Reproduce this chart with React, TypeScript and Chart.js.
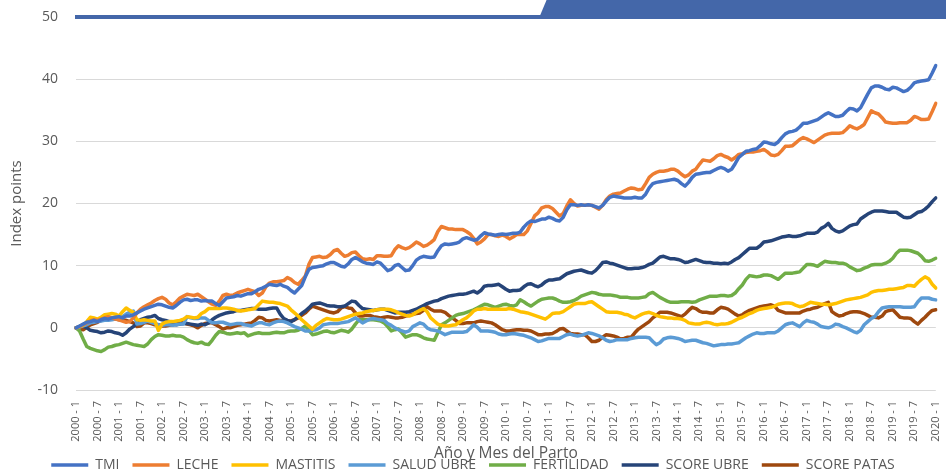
import { useEffect, useRef } from 'react';
import { Chart, registerables } from 'chart.js';

Chart.register(...registerables);

// ---- categories (monthly, 2000-1 .. 2020-1) ----
const START_YEAR = 2000;
const END_YEAR = 2020;
const CATEGORIES: string[] = [];
for (let y = START_YEAR; y <= END_YEAR; y++) {
  for (let m = 1; m <= 12; m++) {
    if (y === END_YEAR && m > 1) break;
    CATEGORIES.push(`${y} - ${m}`);
  }
}
const TICK_EVERY = 6;

// ---- series values (one row per year, last value = 2020-1) ----
const TMI = [
  0, 0.3, 0.6, 0.9, 1.0, 1.2, 1.0, 1.3, 1.5, 1.4, 1.6, 1.7,
  1.8, 1.6, 1.9, 1.9, 2.1, 2.4, 2.7, 3.0, 3.2, 3.4, 3.6, 3.8,
  3.7, 3.5, 3.3, 3.2, 3.6, 4.1, 4.5, 4.6, 4.4, 4.5, 4.5, 4.3,
  4.4, 4.3, 4.3, 3.9, 3.6, 4.2, 4.8, 4.9, 5.0, 5.2, 5.1, 5.3,
  5.5, 5.5, 5.8, 6.2, 6.4, 6.7, 7.0, 6.9, 6.8, 7.0, 6.7, 6.5,
  6.0, 5.6, 6.2, 6.8, 8.2, 9.4, 9.7, 9.8, 9.9, 10.0, 10.3, 10.5,
  10.5, 10.2, 9.9, 9.8, 10.3, 11.0, 11.3, 11.0, 10.6, 10.4, 10.3, 10.2,
  10.6, 10.4, 9.8, 9.2, 9.4, 10.0, 10.2, 9.7, 9.2, 9.3, 10.0, 10.9,
  11.3, 11.5, 11.4, 11.3, 11.4, 12.4, 13.2, 13.5, 13.4, 13.5, 13.6, 13.8,
  14.3, 14.5, 14.3, 14.1, 14.2, 14.8, 15.3, 15.1, 15.0, 14.9, 15.0, 15.1,
  15.0, 15.1, 15.2, 15.2, 15.4, 16.2, 16.8, 17.2, 17.1, 17.3, 17.5, 17.5,
  17.8, 17.6, 17.3, 17.2, 17.8, 19.0, 19.8, 19.8, 19.7, 19.8, 19.7, 19.8,
  19.7, 19.5, 19.3, 19.7, 20.4, 21.0, 21.2, 21.1, 21.0, 20.9, 20.9, 20.9,
  21.0, 20.9, 20.9, 21.5, 22.5, 23.2, 23.4, 23.5, 23.6, 23.7, 23.8, 23.9,
  23.7, 23.2, 22.8, 23.4, 24.2, 24.7, 24.8, 24.9, 25.0, 25.0, 25.3, 25.6,
  25.8, 25.6, 25.2, 25.5, 26.4, 27.4, 27.9, 28.4, 28.5, 28.7, 28.8, 29.3,
  29.9, 29.8, 29.6, 29.5, 29.9, 30.6, 31.2, 31.5, 31.6, 31.8, 32.3, 32.9,
  32.9, 33.1, 33.3, 33.5, 33.9, 34.3, 34.6, 34.3, 34.0, 34.0, 34.2, 34.8,
  35.3, 35.2, 34.9, 35.4, 36.5, 37.6, 38.6, 38.9, 38.9, 38.7, 38.4, 38.3,
  38.7, 38.6, 38.3, 38.0, 38.2, 38.7, 39.4, 39.6, 39.7, 39.8, 39.9, 41.0,
  42.2,
];

const LECHE = [
  0, 0.2, 0.5, 0.8, 1.1, 1.3, 1.2, 1.4, 1.6, 1.8, 1.6, 1.4,
  1.3, 1.1, 0.9, 1.0, 1.6, 2.4, 3.0, 3.4, 3.7, 4.0, 4.4, 4.7,
  4.9, 4.6, 4.0, 3.7, 4.2, 4.8, 5.1, 5.4, 5.3, 5.2, 5.4, 5.0,
  4.6, 4.2, 3.8, 3.6, 4.3, 5.2, 5.4, 5.2, 5.3, 5.6, 5.8, 6.0,
  6.2, 6.0, 5.8, 5.2, 5.6, 6.6, 7.2, 7.4, 7.4, 7.5, 7.6, 8.1,
  7.8, 7.3, 7.0, 7.6, 8.3, 10.2, 11.3, 11.4, 11.5, 11.3, 11.4, 11.8,
  12.4, 12.6, 12.0, 11.5, 11.7, 12.1, 12.2, 11.6, 11.1, 11.0, 11.1, 11.0,
  11.6, 11.6, 11.5, 11.5, 11.6, 12.6, 13.2, 12.9, 12.7, 12.9, 13.3, 13.8,
  13.5, 13.1, 13.3, 13.7, 14.2, 15.5, 16.3, 16.1, 15.9, 15.9, 15.8, 15.8,
  15.8, 15.5, 15.1, 14.4, 13.5, 13.8, 14.3, 15.0, 15.0, 14.8, 14.7, 14.9,
  14.7, 14.3, 14.6, 15.0, 15.0, 15.0, 15.6, 16.8, 18.0, 18.5, 19.3, 19.5,
  19.5, 19.2, 18.6, 18.0, 18.4, 19.6, 20.6, 20.0, 19.6, 19.7, 19.7, 19.8,
  19.7, 19.4, 19.1, 19.7, 20.6, 21.2, 21.5, 21.6, 21.7, 22.0, 22.3, 22.5,
  22.4, 22.2, 22.3, 23.2, 24.2, 24.7, 25.0, 25.2, 25.2, 25.3, 25.5, 25.5,
  25.2, 24.7, 24.3, 24.6, 25.2, 25.5, 26.3, 27.0, 26.9, 26.8, 27.2, 27.7,
  27.9, 27.6, 27.4, 27.0, 27.4, 27.9, 28.0, 28.2, 28.3, 28.3, 28.4, 28.5,
  28.7, 28.3, 27.8, 27.7, 27.9, 28.5, 29.2, 29.2, 29.3, 29.8, 30.3, 30.6,
  30.4, 30.1, 29.8, 30.2, 30.6, 31.0, 31.2, 31.3, 31.3, 31.3, 31.4, 31.9,
  32.5, 32.2, 32.0, 32.3, 32.7, 33.8, 34.9, 34.6, 34.4, 33.8, 33.1, 33.0,
  32.9, 32.9, 33.0, 33.0, 33.0, 33.4, 34.0, 33.8, 33.5, 33.5, 33.6, 34.8,
  36.1,
];

const MASTITIS = [
  0, 0.2, 0.4, 1.0, 1.7, 1.6, 1.4, 1.7, 2.1, 2.2, 2.3, 2.2,
  1.9, 2.6, 3.2, 2.8, 2.5, 1.3, 1.2, 1.3, 1.2, 1.1, 1.1, -0.4,
  0.6, 0.9, 1.0, 1.0, 1.1, 1.2, 1.4, 1.8, 1.7, 1.6, 1.7, 2.3,
  2.6, 3.1, 3.1, 3.1, 3.1, 3.2, 3.2, 3.1, 3.0, 2.8, 2.7, 2.8,
  2.9, 3.0, 3.1, 3.7, 4.3, 4.2, 4.1, 4.1, 4.0, 3.9, 3.7, 3.5,
  2.9, 2.4, 1.9, 1.3, 0.8, 0.3, -0.2, 0.4, 0.8, 1.2, 1.5, 1.4,
  1.3, 1.3, 1.4, 1.6, 1.8, 2.0, 2.2, 2.3, 2.4, 2.6, 2.7, 2.8,
  2.9, 3.0, 3.0, 3.0, 2.9, 2.7, 2.4, 2.2, 2.0, 1.9, 2.1, 2.5,
  2.8, 3.1, 2.6, 1.6, 1.1, 0.6, 0.4, 0.3, 0.3, 0.4, 0.5, 0.9,
  1.3, 1.6, 2.1, 2.7, 3.0, 3.0, 3.1, 3.0, 3.0, 3.0, 3.0, 3.0,
  3.0, 3.1, 3.0, 2.8, 2.6, 2.5, 2.4, 2.2, 2.0, 1.8, 1.6, 1.4,
  1.8, 2.3, 2.4, 2.4, 2.6, 3.0, 3.4, 3.8, 3.9, 3.9, 3.9, 4.1,
  4.2, 3.8, 3.4, 3.0, 2.6, 2.5, 2.5, 2.5, 2.4, 2.2, 2.1, 1.8,
  1.6, 1.9, 2.2, 2.4, 2.5, 2.3, 2.0, 1.8, 1.7, 1.6, 1.6, 1.5,
  1.5, 1.4, 1.2, 0.8, 0.7, 0.6, 0.6, 0.8, 0.9, 0.8, 0.6, 0.5,
  0.6, 0.6, 0.7, 0.9, 1.2, 1.5, 1.7, 2.0, 2.3, 2.5, 2.8, 3.0,
  3.1, 3.2, 3.3, 3.5, 3.8, 3.9, 4.0, 4.0, 3.9, 3.6, 3.4, 3.5,
  3.8, 4.1, 4.0, 3.9, 3.8, 3.8, 3.7, 3.8, 3.9, 4.1, 4.3, 4.5,
  4.6, 4.7, 4.8, 4.9, 5.1, 5.3, 5.7, 5.9, 6.0, 6.0, 6.1, 6.2,
  6.2, 6.3, 6.4, 6.5, 6.8, 6.8, 6.7, 7.3, 7.8, 8.2, 7.9, 7.0,
  6.4,
];

const SALUD_UBRE = [
  0, 0.1, 0.3, 0.5, 0.8, 0.9, 1.0, 1.1, 1.2, 1.2, 1.3, 1.4,
  1.5, 1.8, 2.2, 2.5, 2.7, 0.6, 0.7, 0.9, 1.1, 0.9, 0.7, 0.5,
  0.4, 0.5, 0.5, 0.4, 0.5, 0.6, 0.6, 1.8, 1.6, 1.5, 1.5, 1.6,
  1.6, 1.2, 0.8, 0.8, 0.9, 0.9, 0.7, 0.5, 0.6, 0.7, 0.7, 0.5,
  0.4, 0.3, 0.6, 0.8, 0.8, 0.6, 0.5, 0.8, 1.0, 1.1, 1.0, 0.8,
  0.5, 0.2, 0.0, -0.2, -0.5, -0.5, -0.4, -0.3, 0.0, 0.5, 0.6, 0.7,
  0.7, 0.7, 0.8, 0.9, 1.0, 1.3, 1.6, 1.2, 0.8, 1.1, 1.4, 1.5,
  1.4, 1.3, 1.2, 0.7, 0.4, 0.0, -0.3, -0.5, -0.7, -0.5, 0.2, 0.5,
  0.8, 0.6, 0.0, -0.3, -0.4, -0.5, -0.8, -1.1, -0.9, -0.7, -0.7, -0.7,
  -0.7, -0.6, -0.1, 0.5, 0.1, -0.5, -0.5, -0.5, -0.6, -0.7, -1.0, -1.1,
  -1.1, -1.0, -0.9, -1.0, -1.1, -1.2, -1.4, -1.6, -1.9, -2.2, -2.1, -1.9,
  -1.7, -1.7, -1.7, -1.7, -1.4, -1.1, -1.0, -1.2, -1.3, -1.2, -1.0, -0.8,
  -0.9, -1.1, -1.3, -1.6, -2.0, -2.2, -2.1, -1.9, -1.9, -1.9, -1.9, -1.7,
  -1.6, -1.5, -1.5, -1.5, -1.6, -2.2, -2.7, -2.4, -1.8, -1.6, -1.5, -1.6,
  -1.7, -1.9, -2.2, -2.1, -2.0, -2.0, -2.2, -2.4, -2.5, -2.7, -2.9, -2.8,
  -2.7, -2.7, -2.6, -2.6, -2.5, -2.4, -2.0, -1.6, -1.3, -1.0, -0.8, -0.9,
  -0.9, -0.8, -0.8, -0.8, -0.5, 0.0, 0.5, 0.7, 0.8, 0.5, 0.2, 0.8,
  1.2, 1.0, 0.9, 0.6, 0.2, 0.1, 0.0, 0.2, 0.6, 0.5, 0.2, 0.0,
  -0.3, -0.6, -0.8, -0.4, 0.5, 1.0, 1.5, 1.8, 2.6, 3.2, 3.3, 3.4,
  3.4, 3.4, 3.4, 3.3, 3.3, 3.3, 3.4, 4.2, 4.8, 4.8, 4.8, 4.6,
  4.5,
];

const FERTILIDAD = [
  0, -0.5, -1.8, -3.0, -3.3, -3.5, -3.7, -3.8, -3.5, -3.1, -3.0, -2.8,
  -2.7, -2.5, -2.3, -2.5, -2.7, -2.8, -2.9, -3.0, -2.6, -1.9, -1.4, -1.1,
  -1.2, -1.3, -1.3, -1.2, -1.3, -1.3, -1.5, -1.9, -2.2, -2.4, -2.5, -2.3,
  -2.6, -2.7, -2.0, -1.2, -0.6, -0.7, -0.9, -1.0, -0.9, -0.8, -0.9, -0.8,
  -1.3, -1.1, -0.9, -0.8, -0.9, -0.9, -0.9, -0.8, -0.7, -0.8, -0.8, -0.6,
  -0.5, -0.5, -0.4, -0.1, 0.3, -0.4, -1.1, -1.0, -0.8, -0.6, -0.5, -0.7,
  -0.8, -0.6, -0.4, -0.5, -0.7, -0.2, 0.6, 1.3, 1.3, 1.3, 1.3, 1.3,
  1.2, 1.1, 0.8, 0.2, -0.5, -0.3, -0.2, -0.8, -1.5, -1.3, -1.1, -1.1,
  -1.3, -1.6, -1.8, -1.9, -2.0, -0.8, 0.5, 0.8, 1.2, 1.6, 2.0, 2.2,
  2.3, 2.5, 2.7, 2.9, 3.2, 3.5, 3.8, 3.7, 3.5, 3.3, 3.5, 3.7,
  3.8, 3.6, 3.5, 3.7, 4.5, 4.2, 3.8, 3.5, 3.9, 4.3, 4.6, 4.7,
  4.8, 4.8, 4.6, 4.3, 4.1, 4.1, 4.2, 4.4, 4.7, 5.1, 5.3, 5.5,
  5.7, 5.6, 5.4, 5.3, 5.3, 5.3, 5.2, 5.1, 4.9, 4.9, 4.9, 4.8,
  4.8, 4.8, 4.9, 5.0, 5.5, 5.7, 5.3, 4.9, 4.6, 4.3, 4.1, 4.1,
  4.1, 4.2, 4.2, 4.2, 4.1, 4.2, 4.5, 4.7, 4.9, 5.1, 5.1, 5.1,
  5.2, 5.2, 5.1, 5.2, 5.6, 6.3, 6.9, 7.8, 8.4, 8.3, 8.2, 8.3,
  8.5, 8.5, 8.4, 8.1, 7.8, 8.3, 8.8, 8.8, 8.8, 8.9, 9.0, 9.6,
  10.2, 10.2, 10.1, 9.9, 10.3, 10.7, 10.6, 10.5, 10.5, 10.4, 10.4, 10.2,
  9.8, 9.5, 9.2, 9.3, 9.6, 9.8, 10.1, 10.2, 10.2, 10.2, 10.4, 10.7,
  11.2, 12.0, 12.5, 12.5, 12.5, 12.4, 12.2, 12.0, 11.5, 10.8, 10.7, 10.9,
  11.2,
];

const SCORE_UBRE = [
  0, 0.2, 0.3, 0.0, -0.4, -0.5, -0.6, -0.8, -0.7, -0.5, -0.6, -0.8,
  -0.9, -1.2, -0.8, -0.2, 0.2, 0.7, 1.3, 1.5, 1.7, 1.8, 2.0, 1.5,
  1.3, 1.2, 1.0, 0.7, 0.5, 0.6, 0.7, 0.7, 0.6, 0.5, 0.4, 0.6,
  0.5, 0.8, 1.3, 1.7, 2.0, 2.2, 2.4, 2.5, 2.6, 2.8, 2.8, 2.9,
  3.0, 3.1, 3.1, 3.0, 3.0, 3.0, 3.1, 3.2, 3.2, 2.2, 1.5, 1.2,
  1.0, 1.3, 1.8, 2.3, 2.7, 3.2, 3.8, 3.9, 4.0, 3.8, 3.6, 3.5,
  3.5, 3.4, 3.4, 3.5, 3.9, 4.3, 4.2, 3.6, 3.1, 3.0, 2.9, 2.8,
  2.9, 3.0, 3.0, 2.8, 2.6, 2.4, 2.5, 2.5, 2.5, 2.6, 2.8, 3.0,
  3.3, 3.6, 3.9, 4.1, 4.3, 4.4, 4.7, 4.9, 5.1, 5.2, 5.3, 5.4,
  5.4, 5.5, 5.7, 5.9, 5.6, 6.0, 6.7, 6.8, 6.8, 6.9, 7.0, 6.6,
  6.2, 5.9, 6.0, 6.0, 6.1, 6.6, 7.0, 7.1, 6.8, 6.6, 6.9, 7.4,
  7.7, 7.7, 7.8, 7.9, 8.3, 8.7, 8.9, 9.1, 9.2, 9.3, 9.1, 8.9,
  8.8, 9.2, 9.8, 10.5, 10.6, 10.4, 10.3, 10.1, 9.9, 9.7, 9.5, 9.5,
  9.6, 9.6, 9.7, 9.9, 10.2, 10.4, 10.9, 11.4, 11.5, 11.3, 11.1, 11.1,
  11.0, 10.8, 10.5, 10.6, 10.8, 11.0, 10.8, 10.6, 10.5, 10.5, 10.4, 10.4,
  10.3, 10.4, 10.3, 10.6, 11.0, 11.3, 11.8, 12.3, 12.8, 12.8, 12.8, 13.2,
  13.8, 13.9, 14.0, 14.2, 14.4, 14.6, 14.7, 14.8, 14.7, 14.7, 14.8, 15.0,
  15.2, 15.2, 15.2, 15.4, 16.0, 16.3, 16.8, 16.0, 15.6, 15.4, 15.6, 16.0,
  16.4, 16.6, 16.7, 17.5, 17.9, 18.3, 18.6, 18.8, 18.8, 18.8, 18.7, 18.6,
  18.6, 18.6, 18.2, 17.8, 17.7, 17.8, 18.2, 18.6, 18.7, 19.1, 19.6, 20.3,
  20.9,
];

const SCORE_PATAS = [
  0, -0.2, -0.3, 0.1, 0.5, 0.7, 0.9, 1.2, 1.3, 1.4, 1.5, 1.4,
  1.3, 1.2, 1.2, 1.0, 0.8, 0.2, 0.3, 0.8, 0.8, 0.7, 0.5, 0.5,
  0.3, 0.3, 0.4, 0.5, 0.6, 0.8, 0.8, 0.6, 0.5, 0.3, 0.0, 0.4,
  0.7, 0.8, 0.8, 0.5, 0.2, -0.2, 0.0, 0.0, 0.2, 0.4, 0.5, 0.6,
  0.7, 0.8, 1.2, 1.7, 1.6, 1.2, 1.1, 1.2, 1.3, 1.2, 1.1, 1.1,
  1.1, 1.3, 1.6, 2.0, 2.4, 3.0, 3.5, 3.3, 3.1, 2.9, 2.7, 2.5,
  2.4, 2.6, 3.2, 3.4, 3.2, 3.1, 2.4, 1.9, 1.9, 2.0, 2.0, 1.8,
  1.7, 1.6, 1.7, 1.8, 1.7, 1.6, 1.6, 1.7, 1.9, 2.0, 2.2, 2.3,
  2.4, 2.8, 3.4, 3.0, 2.7, 2.7, 2.7, 2.5, 2.0, 1.6, 1.2, 0.7,
  0.7, 0.8, 0.8, 0.8, 1.0, 1.1, 1.0, 0.9, 0.8, 0.5, 0.1, -0.3,
  -0.5, -0.5, -0.4, -0.3, -0.3, -0.4, -0.4, -0.5, -0.8, -1.1, -1.1, -1.0,
  -1.0, -0.9, -0.6, -0.2, -0.1, -0.5, -0.9, -1.0, -1.0, -1.1, -1.1, -1.6,
  -2.2, -2.2, -2.0, -1.5, -1.1, -1.2, -1.3, -1.5, -1.8, -1.7, -1.5, -1.5,
  -0.8, -0.2, 0.2, 0.6, 1.0, 1.6, 2.0, 2.5, 2.5, 2.5, 2.4, 2.2,
  2.0, 1.8, 2.2, 2.8, 3.3, 3.1, 2.7, 2.5, 2.5, 2.4, 2.4, 2.9,
  3.3, 3.2, 3.0, 2.6, 2.2, 1.9, 2.1, 2.5, 2.8, 3.0, 3.2, 3.4,
  3.5, 3.6, 3.7, 3.5, 2.8, 2.6, 2.4, 2.4, 2.4, 2.4, 2.4, 2.7,
  2.9, 3.0, 3.2, 3.3, 3.6, 3.9, 4.1, 2.6, 2.2, 1.9, 2.0, 2.3,
  2.5, 2.6, 2.6, 2.5, 2.3, 2.0, 1.7, 1.7, 1.6, 1.9, 2.6, 2.8,
  2.9, 2.3, 1.7, 1.6, 1.6, 1.5, 1.0, 0.6, 1.2, 1.7, 2.3, 2.8,
  2.9,
];

const SERIES_NAMES = ['TMI', 'LECHE', 'MASTITIS', 'SALUD UBRE', 'FERTILIDAD', 'SCORE UBRE', 'SCORE PATAS'];
const SERIES_VALUES = [TMI, LECHE, MASTITIS, SALUD_UBRE, FERTILIDAD, SCORE_UBRE, SCORE_PATAS];
const SERIES_COLORS = ['#4472C4', '#ED7D31', '#FFC000', '#5B9BD5', '#70AD47', '#264478', '#9E480E'];

const Y_MIN = -10;
const Y_MAX = 50;
const Y_STEP = 10;
const Y_TITLE = 'Index points';
const X_TITLE = 'Año y Mes del Parto';

const FONT = "'Open Sans', 'DejaVu Sans', sans-serif";
const TEXT_COLOR = '#595959';
const GRID_COLOR = '#d9d9d9';
const BANNER_COLOR = '#4467A9';

const bannerPlugin = {
  id: 'banner',
  afterDraw(chart: any) {
    const { ctx, chartArea, scales } = chart;
    const y = scales.y.getPixelForValue(Y_MAX);
    const right = chart.width - 6;
    const x0 = chartArea.left + (chartArea.right - chartArea.left) * 0.538;
    ctx.save();
    ctx.fillStyle = BANNER_COLOR;
    ctx.fillRect(chartArea.left - 1, y - 2, right - chartArea.left + 1, 4);
    ctx.beginPath();
    ctx.moveTo(x0, y + 2);
    ctx.lineTo(x0 + 8, 0);
    ctx.lineTo(right, 0);
    ctx.lineTo(right, y + 2);
    ctx.closePath();
    ctx.fill();
    ctx.restore();
  },
};

export default function App() {
  const canvasRef = useRef<HTMLCanvasElement | null>(null);

  useEffect(() => {
    if (!canvasRef.current) return;
    const chart = new Chart(canvasRef.current, {
      type: 'line',
      data: {
        labels: CATEGORIES,
        datasets: SERIES_NAMES.map((name, i) => ({
          label: name,
          data: SERIES_VALUES[i],
          borderColor: SERIES_COLORS[i],
          backgroundColor: SERIES_COLORS[i],
          borderWidth: 3.5,
          borderCapStyle: 'round' as const,
          borderJoinStyle: 'round' as const,
          pointRadius: 0,
          tension: 0,
          fill: false,
        })),
      },
      options: {
        animation: false,
        responsive: true,
        maintainAspectRatio: false,
        layout: { padding: { left: 6, right: 12, top: 17, bottom: -12 } },
        plugins: {
          tooltip: { enabled: false },
          legend: {
            position: 'bottom',
            labels: {
              usePointStyle: true,
              pointStyle: 'line',
              pointStyleWidth: 37,
              color: TEXT_COLOR,
              font: { family: FONT, size: 14 },
              padding: 13,
            },
          },
        },
        scales: {
          x: {
            grid: { display: false },
            border: { display: false },
            ticks: {
              autoSkip: false,
              minRotation: 90,
              maxRotation: 90,
              padding: 3,
              color: TEXT_COLOR,
              font: { family: FONT, size: 11 },
              callback: (_v: any, idx: number) => (idx % TICK_EVERY === 0 ? CATEGORIES[idx] : ''),
            },
            title: {
              display: true,
              text: X_TITLE,
              color: TEXT_COLOR,
              font: { family: FONT, size: 15.5 },
              padding: { top: 0, bottom: -18 },
            },
            afterFit: (scale: any) => {
              scale.height = 55;
            },
          },
          y: {
            min: Y_MIN,
            max: Y_MAX,
            grid: { color: GRID_COLOR, lineWidth: 1, drawTicks: false },
            border: { display: false },
            ticks: {
              stepSize: Y_STEP,
              padding: 18,
              color: TEXT_COLOR,
              font: { family: FONT, size: 14 },
            },
            title: {
              display: true,
              text: Y_TITLE,
              color: TEXT_COLOR,
              font: { family: FONT, size: 15 },
              padding: { top: 2, bottom: 0 },
            },
            afterFit: (scale: any) => {
              scale.width = 70;
              scale.paddingTop = 0;
              scale.paddingBottom = 0;
            },
          },
        },
      },
      plugins: [bannerPlugin],
    });
    return () => chart.destroy();
  }, []);

  return (
    <div style={{ position: 'absolute', left: 0, top: 0, width: 952, height: 470 }}>
      <canvas ref={canvasRef} />
    </div>
  );
}
